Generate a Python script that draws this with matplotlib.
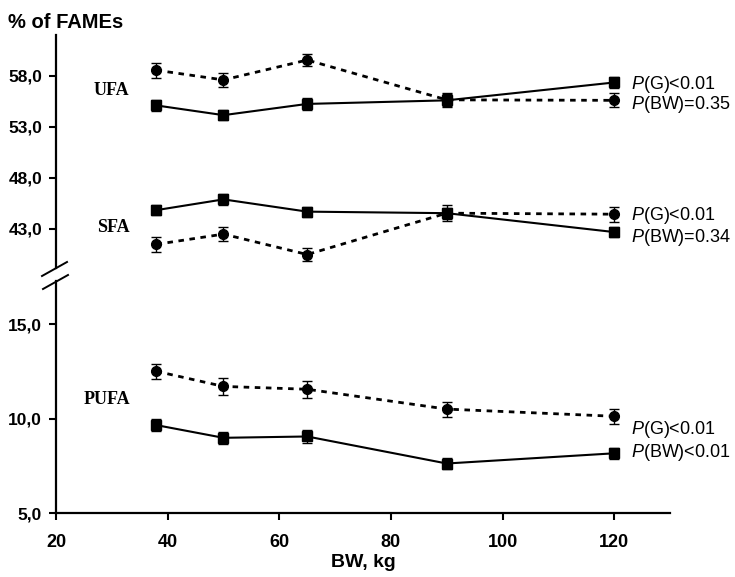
import matplotlib
matplotlib.use('Agg')

import matplotlib.pyplot as plt
from matplotlib.lines import Line2D

# -------------------
# Data
# -------------------
bw = [38, 50, 65, 90, 120]

ufa_dash = [58.55, 57.6, 59.55, 55.65, 55.6]
ufa_dash_err = [0.75, 0.7, 0.6, 0.7, 0.7]
ufa_solid = [55.1, 54.15, 55.25, 55.6, 57.35]
ufa_solid_err = [0.55, 0.5, 0.55, 0.6, 0.5]

sfa_solid = [44.85, 45.9, 44.7, 44.55, 42.7]
sfa_solid_err = [0.5, 0.55, 0.5, 0.55, 0.5]
sfa_dash = [41.5, 42.5, 40.5, 44.55, 44.45]
sfa_dash_err = [0.75, 0.7, 0.6, 0.8, 0.75]

pufa_dash = [12.5, 11.7, 11.55, 10.5, 10.12]
pufa_dash_err = [0.4, 0.45, 0.45, 0.4, 0.4]
pufa_solid = [9.65, 8.98, 9.05, 7.62, 8.16]
pufa_solid_err = [0.32, 0.32, 0.32, 0.3, 0.3]

x_ticks = [20, 40, 60, 80, 100, 120]
upper_ticks = [43, 48, 53, 58]
lower_ticks = [5, 10, 15]

plt.rcParams['font.family'] = 'Liberation Sans'
plt.rcParams['mathtext.fontset'] = 'custom'
plt.rcParams['mathtext.it'] = 'Liberation Sans:italic'
plt.rcParams['mathtext.rm'] = 'Liberation Sans'

W, H = 735, 577
fig = plt.figure(figsize=(W / 100, H / 100), dpi=100)

def px_ax(x0, y0, x1, y1):
    return fig.add_axes([x0 / W, 1 - y1 / H, (x1 - x0) / W, (y1 - y0) / H])

ax_up = px_ax(56, 35, 670, 268)
ax_lo = px_ax(56, 281, 670, 513)

err_kw = dict(ecolor='black', elinewidth=1.0, capsize=3.5, capthick=1.0)

def series(ax, y, e, marker, dashed):
    ls = (0, (2.0, 2.0)) if dashed else '-'
    lw = 2.0 if dashed else 1.5
    ms = 7 if marker == 'o' else 6.5
    ax.errorbar(bw, y, yerr=e, color='black', lw=lw, linestyle=ls,
                marker=marker, ms=ms, mfc='black', mec='black', **err_kw)

series(ax_up, ufa_dash, ufa_dash_err, 'o', True)
series(ax_up, ufa_solid, ufa_solid_err, 's', False)
series(ax_up, sfa_dash, sfa_dash_err, 'o', True)
series(ax_up, sfa_solid, sfa_solid_err, 's', False)
series(ax_lo, pufa_dash, pufa_dash_err, 'o', True)
series(ax_lo, pufa_solid, pufa_solid_err, 's', False)

for ax in (ax_up, ax_lo):
    ax.set_xlim(20, 130)
    ax.spines['top'].set_visible(False)
    ax.spines['right'].set_visible(False)
    ax.spines['left'].set_linewidth(1.6)
    ax.spines['bottom'].set_linewidth(1.6)
    ax.tick_params(axis='y', direction='out', length=5, width=1.5, pad=5,
                   labelsize=12.5)
    ax.patch.set_visible(False)

ax_up.set_ylim(39.18, 62.0)
ax_up.spines['bottom'].set_visible(False)
ax_up.set_xticks([])
ax_up.set_yticks(upper_ticks)
ax_up.set_yticklabels([f'{v:.1f}'.replace('.', ',') for v in upper_ticks],
                      fontweight='bold')

ax_lo.set_ylim(5, 17.28)
ax_lo.set_yticks(lower_ticks)
ax_lo.set_yticklabels([f'{v:.1f}'.replace('.', ',') for v in lower_ticks],
                      fontweight='bold')
ax_lo.set_xticks(x_ticks)
ax_lo.set_xticklabels([str(v) for v in x_ticks], fontweight='bold')
ax_lo.tick_params(axis='x', direction='out', length=5, width=1.5, pad=10,
                  labelsize=13)
ax_lo.set_xlabel('BW, kg', fontsize=14, fontweight='bold', labelpad=2)

# group labels
serif = dict(family='Liberation Serif', fontweight='bold', fontsize=13,
             ha='center', va='center')
ax_up.text(30.0, 56.6, 'UFA', **serif)
ax_up.text(30.2, 43.1, 'SFA', **serif)
ax_lo.text(29.1, 11.0, 'PUFA', **serif)

# p-values
pk = dict(fontsize=13, ha='left', va='center', clip_on=False)
ax_up.text(123.0, 57.2, r'$\it{P}$(G)<0.01', **pk)
ax_up.text(123.0, 55.15, r'$\it{P}$(BW)=0.35', **pk)
ax_up.text(123.0, 44.37, r'$\it{P}$(G)<0.01', **pk)
ax_up.text(123.0, 42.2, r'$\it{P}$(BW)=0.34', **pk)
ax_lo.text(123.0, 9.42, r'$\it{P}$(G)<0.01', **pk)
ax_lo.text(123.0, 8.2, r'$\it{P}$(BW)<0.01', **pk)

# title on the y axis
fig.text(8 / W, 1 - 22 / H, '% of FAMEs', fontsize=14.5, fontweight='bold',
         ha='left', va='center')

# axis break marks
for (x0, y0, x1, y1) in [(42, 276, 67, 262), (43, 289, 68, 275)]:
    fig.add_artist(Line2D([x0 / W, x1 / W], [1 - y0 / H, 1 - y1 / H],
                          color='black', lw=1.4))

fig.savefig('out.png', dpi=100)
